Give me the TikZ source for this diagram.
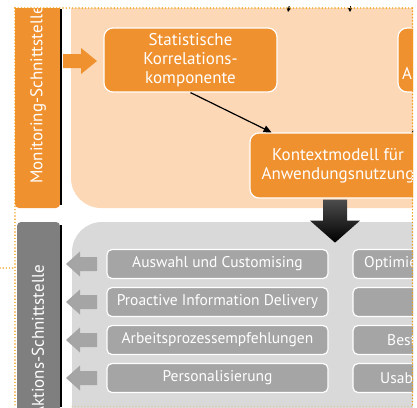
\documentclass[tikz,border=0pt]{standalone}
\usepackage{fontspec}
\setmainfont{PT Sans}
\usetikzlibrary{calc,arrows.meta}

\definecolor{monOrange}{HTML}{F0912F}
\definecolor{monLight}{HTML}{FCD8B7}
\definecolor{aktGray}{HTML}{A5A5A5}
\definecolor{aktLight}{HTML}{D9D9D9}
\definecolor{aktDark}{HTML}{7F7F7F}
\definecolor{frameOrange}{HTML}{F39C12}

\tikzset{
  compbox/.style={draw=white, line width=1.2pt, fill=monOrange, rounded corners=9pt, text=white, align=center, inner sep=0pt, font=\fontsize{17}{19}\selectfont},
  actbox/.style={draw=white, line width=1.2pt, fill=aktGray, rounded corners=5pt, text=white, inner sep=0pt, minimum width=221pt, minimum height=29pt, font=\fontsize{15.5}{17}\selectfont},
  acttext/.style={text=white, anchor=west, inner sep=0pt, font=\fontsize{15.5}{17}\selectfont},
  sidelabel/.style={rotate=90, text=white, font=\fontsize{17}{19}\selectfont},
  frameline/.style={frameOrange, line width=1.6pt, dash pattern=on 0pt off 3.2pt, line cap=round},
  link/.style={line width=1.2pt, -{Triangle[length=8pt,width=7pt]}},
}

\begin{document}
\begin{tikzpicture}[x=1pt,y=-1pt]
        \useasboundingbox (0,0) rectangle (417,407);
        \clip (0,0) rectangle (413,407);

        % Monitoring
        \begin{scope}
        \clip (0,8.5) rectangle (413,407);
        \fill[monLight, rounded corners=30pt] (71,-40) rectangle (470,208);
        \fill[monOrange, rounded corners=4pt] (15,-20) rectangle (60,208);
        \end{scope}
        \draw[line width=1.5pt] (61,9) -- (61,205);
        \node[sidelabel] (mon) at (38,95) {Monitoring-Schnittstelle};

        \fill[monOrange] (63,54) -- ++(18,0) -- ++(0,-6) -- (97,61) -- (81,74) -- ++(0,-6) -- (63,68) -- cycle;

        \node[compbox, minimum width=173pt, minimum height=64pt] (stat) at (190.5,60) {Statistische\\Korrelations-\\komponente};
        \node[compbox, minimum width=173pt, minimum height=64pt] (adapt) at (484.5,60) {};
        \node[acttext, font=\fontsize{17}{19}\selectfont] (adaptA) at (402,73) {A};
        \node[compbox, minimum width=176pt, minimum height=65pt] (ctx) at (338,165.5) {Kontextmodell für\\Anwendungsnutzung};

        \draw[link] (stat.south) -- ($(ctx.north west)!0.125!(ctx.north east)$);
        \draw[link] (adapt.south) -- ($(ctx.north west)!0.915!(ctx.north east)$);
        \begin{scope}
        \clip (0,6) rectangle (413,20);
        \coordinate (inA) at (288,12);
        \coordinate (inB) at (350,12);
        \draw[line width=1pt, -{Triangle[length=4pt,width=4pt]}] (292,-8) -- (inA);
        \draw[line width=1pt, -{Triangle[length=4pt,width=4pt]}] (350,-8) -- (inB);
        \end{scope}

        % Aktionen
        \fill[aktLight, rounded corners=30pt] (72,222) rectangle (470,460);
        \fill[aktDark, rounded corners=4pt] (17,222) rectangle (60,440);
        \draw[line width=1.5pt] (61,225) -- (61,407);
        \node[sidelabel] (akt) at (38,341) {Aktions-Schnittstelle};

        \shade[top color=black!70, bottom color=black] ($(ctx.south)+(-15,1)$) -- ++(24,0) -- ++(0,21) -- ++(13,0) -- ++(-25,22) -- ++(-25,-22) -- ++(13,0) -- cycle;

        \foreach \y/\name/\txt in {264/sel/Auswahl und Customising, 302/pid/Proactive Information Delivery, 340/proc/Arbeitsprozessempfehlungen, 378/pers/Personalisierung}{
          \node[actbox] (\name) at (217.5,\y) {\txt};
          \node[actbox] (\name R) at (463.5,\y) {};
          \fill[aktGray] (97,\y-7) -- (80,\y-7) -- (80,\y-12.5) -- (66,\y) -- (80,\y+12.5) -- (80,\y+7) -- (97,\y+7) -- cycle;
        }
        \node[acttext] (optR) at (364,264) {Optimie};
        \node[acttext] (bestR) at (387,340) {Best};
        \node[acttext] (usabR) at (380,378) {Usab};

        \draw[frameline] (15,8) -- (412.5,8);
        \draw[frameline] (15,8) -- (15,407);
        \draw[frameline] (412.5,8) -- (412.5,407);
        \draw[frameline] (0,268) -- (13,268);
        \draw[frameline, opacity=0.25] (72,406.5) -- (412.5,406.5);
\end{tikzpicture}
\end{document}
